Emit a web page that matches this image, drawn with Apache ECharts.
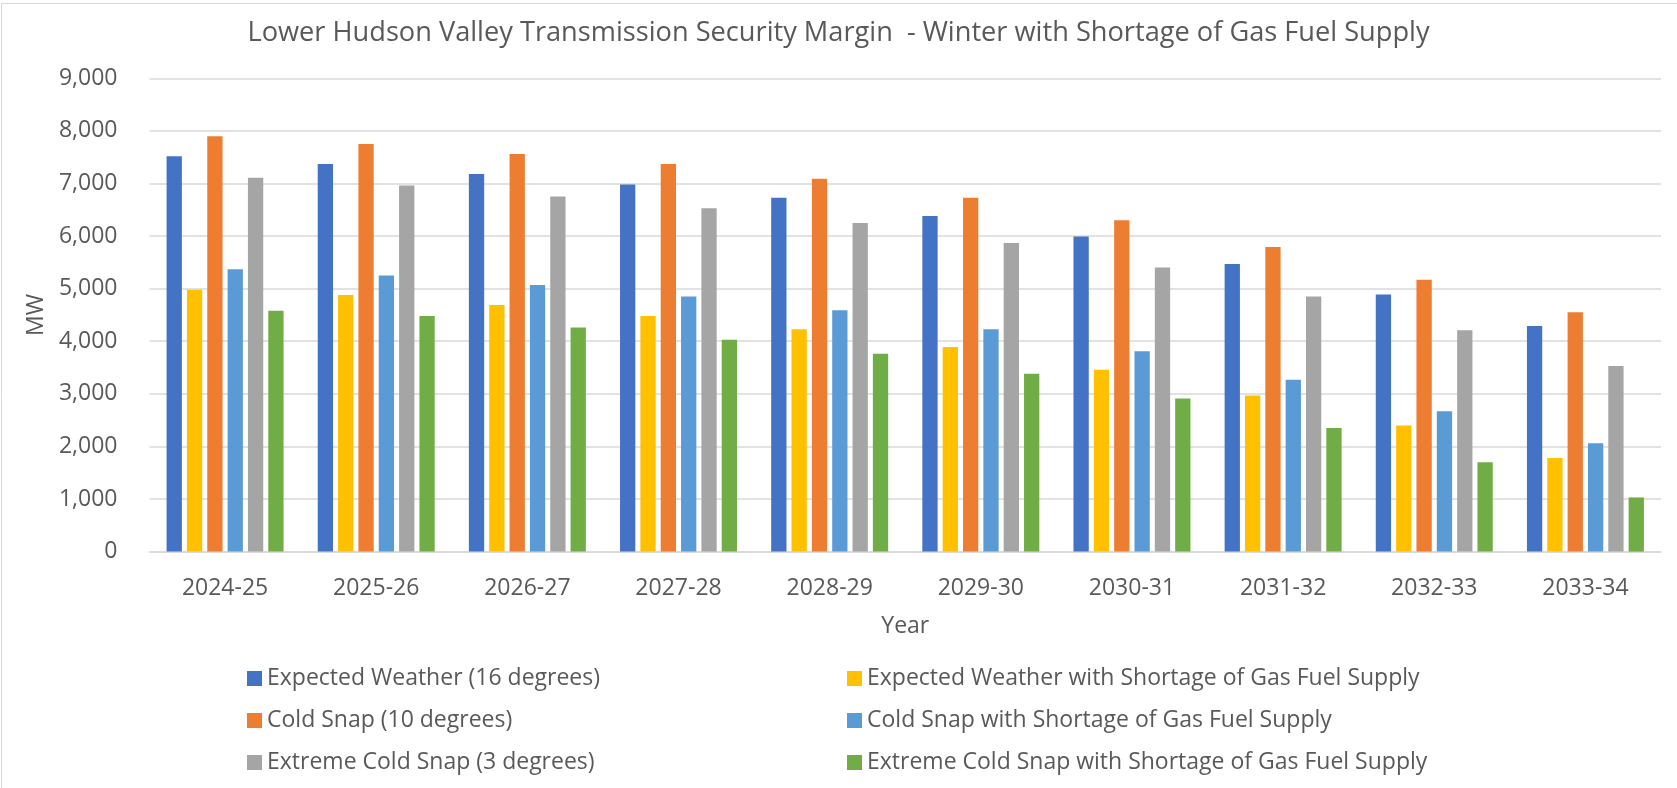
<!DOCTYPE html>
<html>
<head>
<meta charset="utf-8">
<title>Lower Hudson Valley Transmission Security Margin</title>
<script src="https://cdn.jsdelivr.net/npm/echarts@6/dist/echarts.min.js"></script>
<style>
  html, body { margin: 0; padding: 0; background: #ffffff; }
  #chart { width: 1677px; height: 788px; }
</style>
</head>
<body>
<div id="chart"></div>
<script>
// Winter seasons on the category axis
const categories = ['2024-25', '2025-26', '2026-27', '2027-28', '2028-29',
                    '2029-30', '2030-31', '2031-32', '2032-33', '2033-34'];

// Margin in MW for each scenario
const expectedWeather  = [7520, 7370, 7180, 6980, 6730, 6380, 5990, 5470, 4890, 4290];
const expectedShortage = [4980, 4880, 4690, 4480, 4230, 3890, 3460, 2970, 2400, 1780];
const coldSnap         = [7900, 7750, 7560, 7370, 7090, 6730, 6300, 5790, 5170, 4550];
const coldShortage     = [5370, 5250, 5070, 4850, 4590, 4230, 3810, 3270, 2670, 2060];
const extremeCold      = [7110, 6960, 6750, 6530, 6250, 5870, 5400, 4850, 4210, 3530];
const extremeShortage  = [4580, 4480, 4260, 4030, 3760, 3380, 2910, 2350, 1700, 1030];

// Value axis range
const yMin = 0;
const yMax = 9000;
const yStep = 1000;

const seriesNames = [
  'Expected Weather (16 degrees)',
  'Expected Weather with Shortage of Gas Fuel Supply',
  'Cold Snap (10 degrees)',
  'Cold Snap with Shortage of Gas Fuel Supply',
  'Extreme Cold Snap (3 degrees)',
  'Extreme Cold Snap with Shortage of Gas Fuel Supply'
];
const seriesData = [expectedWeather, expectedShortage, coldSnap, coldShortage, extremeCold, extremeShortage];
const seriesColors = ['#4472C4', '#FFC000', '#ED7D31', '#5B9BD5', '#A5A5A5', '#70AD47'];

const FONT = '"Open Sans", "Noto Sans", sans-serif';
const TEXT = '#595959';
const GRID = '#d9d9d9';

const chart = echarts.init(document.getElementById('chart'), null, { renderer: 'canvas' });

const legendText = { color: TEXT, fontFamily: FONT, fontSize: 23, lineHeight: 23 };

chart.setOption({
  backgroundColor: '#ffffff',
  animation: false,
  title: {
    text: 'Lower Hudson Valley Transmission Security Margin  - Winter with Shortage of Gas Fuel Supply',
    left: 'center',
    top: 20,
    padding: 0,
    textStyle: { color: TEXT, fontFamily: FONT, fontSize: 27.2, fontWeight: 'normal' }
  },
  graphic: [{
    type: 'rect',
    shape: { x: 1.5, y: 3.5, width: 1700, height: 800 },
    style: { fill: 'none', stroke: GRID, lineWidth: 1 },
    silent: true
  }],
  legend: [
    {
      orient: 'vertical',
      left: 247,
      top: 667,
      padding: 0,
      itemWidth: 15,
      itemHeight: 15,
      itemGap: 19,
      icon: 'rect',
      selectedMode: false,
      textStyle: legendText,
      data: [seriesNames[0], seriesNames[2], seriesNames[4]]
    },
    {
      orient: 'vertical',
      left: 847,
      top: 667,
      padding: 0,
      itemWidth: 15,
      itemHeight: 15,
      itemGap: 19,
      icon: 'rect',
      selectedMode: false,
      textStyle: legendText,
      data: [seriesNames[1], seriesNames[3], seriesNames[5]]
    }
  ],
  grid: {
    left: 149.5,
    right: 16,
    top: 78.3,
    bottom: 236.4,
    containLabel: false
  },
  xAxis: {
    type: 'category',
    data: categories,
    name: 'Year',
    nameLocation: 'middle',
    nameGap: 63,
    nameTextStyle: { color: TEXT, fontFamily: FONT, fontSize: 23 },
    axisLine: { show: true, lineStyle: { color: GRID, width: 1.5 } },
    axisTick: { show: false },
    axisLabel: { color: TEXT, fontFamily: FONT, fontSize: 23, margin: 25 },
    splitLine: { show: false }
  },
  yAxis: {
    type: 'value',
    min: yMin,
    max: yMax,
    interval: yStep,
    name: 'MW',
    nameLocation: 'middle',
    nameGap: 102,
    nameRotate: 90,
    nameTextStyle: { color: TEXT, fontFamily: FONT, fontSize: 23 },
    axisLine: { show: false },
    axisTick: { show: false },
    axisLabel: {
      color: TEXT, fontFamily: FONT, fontSize: 23, margin: 32,
      formatter: v => v.toLocaleString('en-US')
    },
    splitLine: { show: true, lineStyle: { color: GRID, width: 1.5 } }
  },
  series: seriesNames.map((name, i) => ({
    name: name,
    type: 'bar',
    data: seriesData[i],
    barGap: '33%',
    barCategoryGap: '22.6%',
    itemStyle: { color: seriesColors[i] }
  }))
});
</script>
</body>
</html>
